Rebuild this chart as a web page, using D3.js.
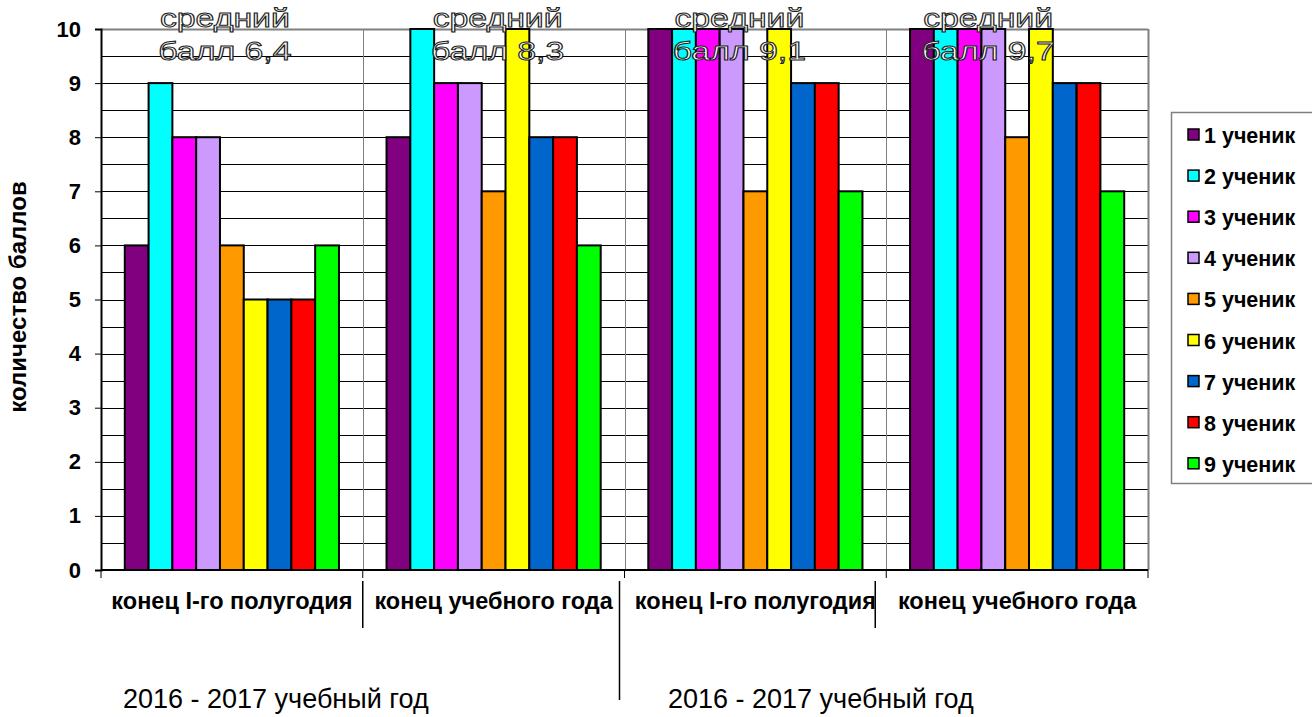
<!DOCTYPE html>
<html><head><meta charset="utf-8">
<script src="https://cdn.jsdelivr.net/npm/d3@7/dist/d3.min.js"></script>
<style>
html,body{margin:0;padding:0;background:#fff;}
svg{display:block;font-family:Arial,"Liberation Sans",sans-serif;}
</style></head>
<body>
<svg id="chart" width="1312" height="717"></svg>
<script>
// ---- data ----
const categories = ["конец I-го полугодия", "конец учебного года", "конец I-го полугодия", "конец учебного года"];
const students = ["1 ученик","2 ученик","3 ученик","4 ученик","5 ученик","6 ученик","7 ученик","8 ученик","9 ученик"];
const colors = ["#800080","#00FFFF","#FF00FF","#CC99FF","#FF9900","#FFFF00","#0066CC","#FF0000","#00FF00"];
const scores1 = [6, 9, 8, 8, 6, 5, 5, 5, 6];
const scores2 = [8, 10, 9, 9, 7, 10, 8, 8, 6];
const scores3 = [10, 10, 10, 10, 7, 10, 9, 9, 7];
const scores4 = [10, 10, 10, 10, 8, 10, 9, 9, 7];
const averageLabels = ["средний|балл 6,4", "средний|балл 8,3", "средний|балл 9,1", "средний|балл 9,7"];
const yearLabels = ["2016 - 2017 учебный год", "2016 - 2017 учебный год"];
const yTicks = [0,1,2,3,4,5,6,7,8,9,10];
const yTitle = "количество баллов";

const scores = [scores1, scores2, scores3, scores4];

const svg = d3.select("#chart");
const pLeft = 101, pRight = 1148, pTop = 29, pBottom = 570;

const y = d3.scaleLinear().domain([0, 10]).range([pBottom, pTop]);
const x = d3.scaleBand().domain(d3.range(categories.length)).range([pLeft, pRight]).padding(0);
const bw = x.bandwidth();
const xs = d3.scaleBand().domain(d3.range(students.length)).range([bw/11, bw*10/11]).padding(0);

// horizontal gridlines every 0.5
const gridVals = d3.range(1, 21).map(d => d/2);
svg.append("g").selectAll("line").data(gridVals).join("line")
  .attr("x1", pLeft).attr("x2", pRight)
  .attr("y1", d => Math.round(y(d)) + 0.5).attr("y2", d => Math.round(y(d)) + 0.5)
  .attr("stroke", d => d === 10 ? "#808080" : "#000").attr("stroke-width", d => d === 10 ? 2 : 1);

// vertical gridlines at category boundaries
const bounds = d3.range(1, categories.length + 1).map(i => pLeft + i * bw);
svg.append("g").selectAll("line").data(bounds).join("line")
  .attr("x1", d => Math.round(d) + 0.5).attr("x2", d => Math.round(d) + 0.5).attr("y1", pTop).attr("y2", pBottom)
  .attr("stroke", "#808080").attr("stroke-width", d => d >= pRight - 1 ? 2 : 1);

// bars
const groups = svg.append("g").selectAll("g").data(scores).join("g")
  .attr("transform", (d, i) => `translate(${x(i)},0)`);
groups.selectAll("rect").data(d => d).join("rect")
  .attr("x", (d, i) => xs(i)).attr("width", xs.bandwidth())
  .attr("y", d => y(d)).attr("height", d => y(0) - y(d))
  .attr("fill", (d, i) => colors[i])
  .attr("stroke", "#000").attr("stroke-width", 2);

// y axis
const yAxis = d3.axisLeft(y).tickValues(yTicks).tickSize(6).tickPadding(14).tickFormat(d3.format("d"));
const yg = svg.append("g").attr("transform", `translate(${pLeft},0)`).call(yAxis);
yg.select(".domain").attr("stroke", "#000").attr("stroke-width", 2);
yg.selectAll(".tick line").attr("stroke", "#000").attr("stroke-width", 1);
yg.selectAll(".tick text").attr("font-size", 22).attr("font-weight", "bold").attr("fill", "#000")
  .attr("font-family", "Arial, 'Liberation Sans', sans-serif");

// x axis
const xg = svg.append("g").attr("transform", `translate(0,${pBottom})`);
xg.append("line").attr("x1", pLeft).attr("x2", pRight).attr("y1", 0).attr("y2", 0)
  .attr("stroke", "#000").attr("stroke-width", 2);
xg.selectAll("line.tk").data([pLeft].concat(bounds)).join("line").attr("class", "tk")
  .attr("x1", d => d).attr("x2", d => d).attr("y1", 0).attr("y2", 8)
  .attr("stroke", "#000").attr("stroke-width", 1);

// category labels
svg.append("g").selectAll("text").data(categories).join("text")
  .attr("x", (d, i) => x(i) + bw/2).attr("y", 609)
  .attr("text-anchor", "middle").attr("font-size", 23.5).attr("font-weight", "bold")
  .text(d => d);

// separator lines under the axis
const sepOffsets = [0, -5, -11];
const sepLengths = [628, 700, 628];
svg.append("g").selectAll("line").data(bounds.slice(0, 3)).join("line")
  .attr("x1", (d, i) => d + sepOffsets[i]).attr("x2", (d, i) => d + sepOffsets[i])
  .attr("y1", 581).attr("y2", (d, i) => sepLengths[i])
  .attr("stroke", "#000").attr("stroke-width", 1.5);

// y title
svg.append("text").attr("transform", "translate(26,297) rotate(-90)")
  .attr("text-anchor", "middle").attr("font-size", 24).attr("font-weight", "bold")
  .text(yTitle);

// year labels
const yearX = [123, 668];
svg.append("g").selectAll("text").data(yearLabels).join("text")
  .attr("x", (d, i) => yearX[i]).attr("y", 708)
  .attr("font-size", 27).attr("fill", "#000")
  .text(d => d);

// average annotations (outlined text)
const annOffsets = [-7, 4, -16, -29];
const ann = svg.append("g").selectAll("g").data(averageLabels).join("g")
  .attr("transform", (d, i) => `translate(${x(i) + bw/2 + annOffsets[i]},0)`);
ann.selectAll("text").data(d => d.split("|")).join("text")
  .attr("x", 0).attr("y", (d, j) => j === 0 ? 27 : 60)
  .attr("text-anchor", "middle").attr("font-size", 26)
  .attr("fill", "#fff").attr("stroke", "#222").attr("stroke-width", 1)
  .text(d => d)
  .each(function() { const w = this.getComputedTextLength(); this.setAttribute("textLength", w * 1.3); this.setAttribute("lengthAdjust", "spacingAndGlyphs"); });

// legend
const lg = svg.append("g");
lg.append("rect").attr("x", 1171.5).attr("y", 112.5).attr("width", 170).attr("height", 371)
  .attr("fill", "#fff").attr("stroke", "#808080").attr("stroke-width", 1.5);
const li = lg.selectAll("g.item").data(students).join("g").attr("class", "item")
  .attr("transform", (d, i) => `translate(1188,${135 + i * 41.1})`);
li.append("rect").attr("x", 0).attr("y", -6).attr("width", 11).attr("height", 11)
  .attr("fill", (d, i) => colors[i]).attr("stroke", "#000").attr("stroke-width", 1.5);
li.append("text").attr("x", 16).attr("y", 8).attr("font-size", 21.5).attr("font-weight", "bold")
  .text(d => d);
</script>
</body></html>
